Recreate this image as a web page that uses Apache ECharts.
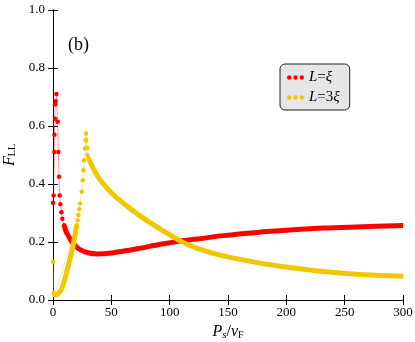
<!DOCTYPE html>
<html>
<head>
<meta charset="utf-8">
<script src="https://cdn.jsdelivr.net/npm/echarts@6/dist/echarts.min.js"></script>
<style>
    html, body { margin: 0; padding: 0; background: #fff; }
    #chart { width: 415px; height: 342px; }
</style>
</head>
<body>
<div id="chart"></div>
<script>
    // L = xi (red): sharp peak near 0, then slow rise
    var redPeakX = [0, 0.5, 1.1, 1.2, 1.7, 1.8, 2.3, 2.9, 4.0, 4.6, 5.2, 5.75, 6.35, 7.2, 8, 9.5];
    var redPeakY = [0.335, 0.36, 0.51, 0.57, 0.625, 0.675, 0.685, 0.71, 0.615, 0.51, 0.425, 0.36, 0.33, 0.303, 0.28, 0.258];
    var redTailX = [9.5, 11, 13, 15, 17, 20, 24, 30, 38, 50, 60, 75, 92, 109, 123, 146, 175, 203, 232, 260, 300];
    var redTailY = [0.258, 0.238, 0.222, 0.208, 0.196, 0.183, 0.172, 0.163, 0.159, 0.162, 0.168, 0.179, 0.192, 0.203, 0.21, 0.222, 0.233, 0.241, 0.248, 0.252, 0.257];

    // L = 3xi (yellow)
    var yellowHeadX = [0, 0.6, 1.2];
    var yellowHeadY = [0.132, 0.025, 0.017];
    var yellowRiseX = [1.2, 2.5, 4.6, 7.5, 10.3, 13.2, 16, 18.9, 20.3];
    var yellowRiseY = [0.017, 0.017, 0.023, 0.04, 0.075, 0.12, 0.166, 0.224, 0.258];
    var yellowPeakX = [20.3, 21.1, 21.8, 22.5, 23.2, 24.6, 25.5, 26.1, 26.6, 27.5, 28.1, 28.3, 28.3, 29.5, 29.5, 30.4];
    var yellowPeakY = [0.258, 0.275, 0.293, 0.313, 0.333, 0.373, 0.413, 0.447, 0.482, 0.522, 0.55, 0.574, 0.553, 0.525, 0.5, 0.49];
    var yellowTailX = [30.4, 34.3, 40.3, 50, 57.4, 74.6, 91.7, 108.9, 123, 146, 175, 203, 232, 260, 300];
    var yellowTailY = [0.49, 0.455, 0.415, 0.37, 0.343, 0.29, 0.245, 0.204, 0.179, 0.152, 0.129, 0.112, 0.098, 0.089, 0.082];

    var yTicks = ['0.0', '0.2', '0.4', '0.6', '0.8', '1.0'];

    var RED = '#ff0000';
    var GOLD = '#f2c700';
    var FONT = 'Liberation Serif';

    function pairs(xs, ys) {
        return xs.map(function (x, i) { return [x, ys[i]]; });
    }

    var chart = echarts.init(document.getElementById('chart'));

    var axisLine = { show: true, lineStyle: { color: '#000', width: 1 } };
    var tick = { show: true, inside: true, length: 5, lineStyle: { color: '#000', width: 1 } };

    var dotsIcon = 'path://M0,2.5a2.2,2.2 0 1,0 4.4,0a2.2,2.2 0 1,0 -4.4,0Z' +
        'M6.3,2.5a2.2,2.2 0 1,0 4.4,0a2.2,2.2 0 1,0 -4.4,0Z' +
        'M12.6,2.5a2.2,2.2 0 1,0 4.4,0a2.2,2.2 0 1,0 -4.4,0Z';

    var option = {
        animation: false,
        grid: { left: 53, right: 12, top: 10, bottom: 42, outerBoundsMode: 'none', containLabel: false },
        graphic: [{
            type: 'text', left: 68, top: 36,
            style: { text: '(b)', font: '18px "Liberation Serif"', fill: '#000' }
        }],
        legend: {
            left: 280, top: 64,
            orient: 'vertical',
            data: ['L=ξ', 'L=3ξ'],
            icon: dotsIcon,
            itemWidth: 17, itemHeight: 5, itemGap: 5,
            padding: [6, 10, 5, 7],
            backgroundColor: '#e6e6e6',
            borderColor: '#222', borderWidth: 1, borderRadius: 5,
            formatter: function (name) {
                return name === 'L=ξ' ? '{i|L}{n|=}{i|ξ}' : '{i|L}{n|=3}{i|ξ}';
            },
            textStyle: {
                rich: {
                    i: { fontFamily: FONT, fontStyle: 'italic', fontSize: 15, color: '#000' },
                    n: { fontFamily: FONT, fontSize: 15, color: '#000' }
                }
            }
        },
        xAxis: [{
            type: 'value', min: 0, max: 300, interval: 50, position: 'bottom',
            axisLine: axisLine, axisTick: tick, splitLine: { show: false },
            axisLabel: { show: true, margin: 6, color: '#000', fontFamily: FONT, fontSize: 13 },
            name: '{i|P}{s|s}{n|/}{i|v}{f|F}',
            nameLocation: 'middle', nameGap: 19,
            nameTextStyle: {
                rich: {
                    i: { fontFamily: FONT, fontStyle: 'italic', fontSize: 16, color: '#000' },
                    n: { fontFamily: FONT, fontSize: 16, color: '#000' },
                    s: { fontFamily: FONT, fontStyle: 'italic', fontSize: 11, color: '#000', padding: [6, 0, 0, 0] },
                    f: { fontFamily: FONT, fontSize: 10, color: '#000', padding: [6, 0, 0, 0] }
                }
            }
        }, {
            type: 'value', min: 0, max: 300, interval: 50, position: 'top',
            axisLine: axisLine, axisTick: tick, splitLine: { show: false },
            axisLabel: { show: false }
        }],
        yAxis: [{
            type: 'value', min: 0, max: 1, interval: 0.2, position: 'left',
            axisLine: axisLine, axisTick: tick, splitLine: { show: false },
            axisLabel: {
                margin: 8, color: '#000', fontFamily: FONT, fontSize: 13,
                formatter: function (v) { return yTicks[Math.round(v / 0.2)]; }
            },
            name: '{i|F}{s|LL}',
            nameLocation: 'middle', nameGap: 34, nameRotate: 90,
            nameTextStyle: {
                rich: {
                    i: { fontFamily: FONT, fontStyle: 'italic', fontSize: 16, color: '#000' },
                    s: { fontFamily: FONT, fontSize: 10, color: '#000', padding: [6, 0, 0, 0] }
                }
            }
        }, {
            type: 'value', min: 0, max: 1, interval: 0.2, position: 'right',
            axisLine: axisLine, axisTick: tick, splitLine: { show: false },
            axisLabel: { show: false }
        }],
        series: [{
            name: 'L=ξ', type: 'line',
            data: pairs(redTailX, redTailY),
            showSymbol: false, smooth: 0.3,
            itemStyle: { color: RED },
            lineStyle: { color: RED, width: 5 }
        }, {
            name: 'L=ξ', type: 'line',
            data: pairs(redPeakX, redPeakY),
            symbol: 'circle', symbolSize: 4.5, showAllSymbol: true,
            itemStyle: { color: RED },
            lineStyle: { color: 'rgba(255,0,0,0.45)', width: 0.9 }
        }, {
            name: 'L=3ξ', type: 'line',
            data: pairs(yellowRiseX, yellowRiseY),
            showSymbol: false, smooth: 0.3,
            itemStyle: { color: GOLD },
            lineStyle: { color: GOLD, width: 5 }
        }, {
            name: 'L=3ξ', type: 'line',
            data: pairs(yellowTailX, yellowTailY),
            showSymbol: false, smooth: 0.3,
            itemStyle: { color: GOLD },
            lineStyle: { color: GOLD, width: 5 }
        }, {
            name: 'L=3ξ', type: 'line',
            data: pairs(yellowHeadX.concat(yellowPeakX), yellowHeadY.concat(yellowPeakY)),
            symbol: 'circle', symbolSize: 4.5, showAllSymbol: true,
            itemStyle: { color: GOLD },
            lineStyle: { color: 'rgba(242,199,0,0.45)', width: 0.9 }
        }]
    };

    chart.setOption(option);
</script>
</body>
</html>
